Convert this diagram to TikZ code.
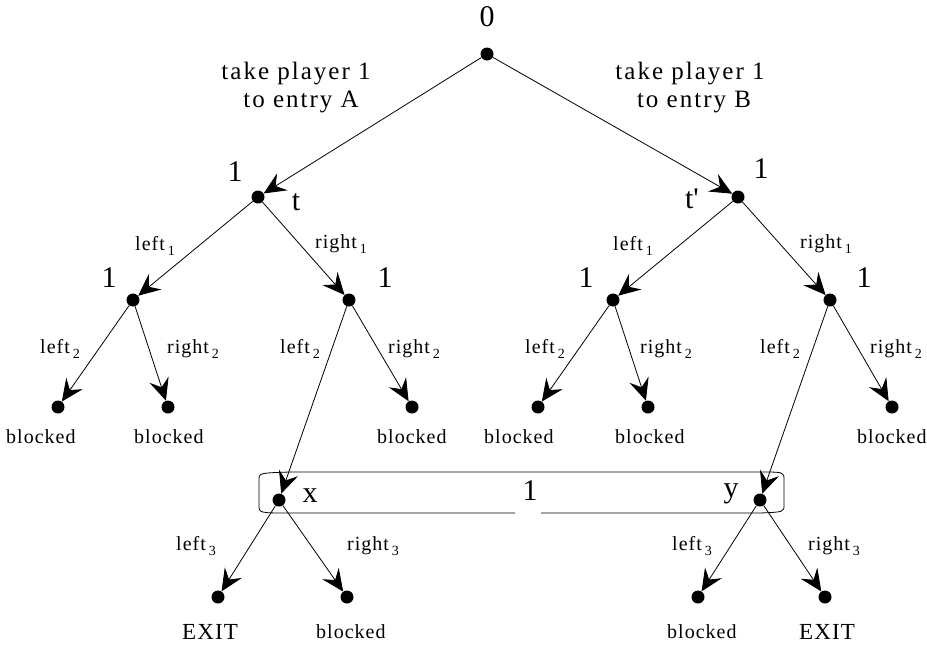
\documentclass[tikz,border=0pt]{standalone}
\usepackage{fontspec}
\setmainfont{Liberation Serif}
\newfontfamily\spfont{Liberation Serif}[LetterSpace=5]
\newfontfamily\topfont{Liberation Serif}[LetterSpace=8]
\usetikzlibrary{arrows.meta}
\newcommand\sublab[2]{#1\hspace{3pt}\raisebox{-5pt}{\fontsize{14}{14}\selectfont #2}}
\begin{document}
\begin{tikzpicture}[x=1pt,y=-1pt,
  dot/.style={circle,fill,inner sep=0pt,minimum size=13pt},
  edge/.style={line width=0.8pt,-{Stealth[length=22pt,width=20pt,inset=8pt]}},
  big/.style={font=\fontsize{30}{30}\selectfont,inner sep=0pt},
  lbl/.style={font=\spfont\fontsize{20}{20}\selectfont,inner sep=0pt,anchor=base west},
  toptext/.style={font=\topfont\fontsize{25}{25}\selectfont,inner sep=0pt,anchor=base},
  exitlbl/.style={font=\spfont\fontsize{23}{23}\selectfont,inner sep=0pt,anchor=base west}]
\useasboundingbox (0,0) rectangle (927,646);
% nodes
\node[dot] (root) at (487,54) {};
\node[dot] (t) at (258,197) {};
\node[dot] (tp) at (738,197) {};
\node[dot] (a) at (133,300) {};
\node[dot] (b) at (349,300) {};
\node[dot] (c) at (613,300) {};
\node[dot] (d) at (830,300) {};
\node[dot] (l1) at (58,407) {};
\node[dot] (l2) at (168,407) {};
\node[dot] (l3) at (412,407) {};
\node[dot] (l4) at (538,407) {};
\node[dot] (l5) at (648,407) {};
\node[dot] (l6) at (892,407) {};
\node[dot] (x) at (279,500) {};
\node[dot] (y) at (760,500) {};
\node[dot] (m1) at (218,597) {};
\node[dot] (m2) at (347,597) {};
\node[dot] (m3) at (698,597) {};
\node[dot] (m4) at (825,597) {};
% information set box
\draw[line width=0.8pt] (290,472) -- (760,472) .. controls (784,472) .. (784,480) -- (784,505)
  .. controls (784,512) .. (760,513) -- (541,513);
\draw[line width=0.8pt] (515,513) -- (290,513) .. controls (259,513) .. (259,505) -- (259,480)
  .. controls (259,473) .. (290,472);
% edges
\draw[edge] (root) -- (t);
\draw[edge] (root) -- (tp);
\draw[edge] (t) -- (a);
\draw[edge] (t) -- (b);
\draw[edge] (tp) -- (c);
\draw[edge] (tp) -- (d);
\draw[edge] (a) -- (l1);
\draw[edge] (a) -- (l2);
\draw[edge] (b) -- (x);
\draw[edge] (b) -- (l3);
\draw[edge] (c) -- (l4);
\draw[edge] (c) -- (l5);
\draw[edge] (d) -- (y);
\draw[edge] (d) -- (l6);
\draw[edge] (x) -- (m1);
\draw[edge] (x) -- (m2);
\draw[edge] (y) -- (m3);
\draw[edge] (y) -- (m4);
% big labels
\node[big] (n0) at (487,17) {0};
\node[big] (nt1) at (235,172) {1};
\node[big] (ntp1) at (761,169) {1};
\node[big] (na1) at (109,278) {1};
\node[big] (nb1) at (385,278) {1};
\node[big] (nc1) at (586,278) {1};
\node[big] (nd1) at (864,278) {1};
\node[big] (nbox1) at (530,491) {1};
\node[big] (tlab) at (296,202) {t};
\node[big] (tplab) at (692,199) {t\textquotesingle};
\node[big] (xlab) at (310,496) {x};
\node[big] (ylab) at (731,494) {y};
% top texts
\node[toptext] (tA1) at (296,79) {take player 1};
\node[toptext] (tA2) at (301,107) {to entry A};
\node[toptext] (tB1) at (690,79) {take player 1};
\node[toptext] (tB2) at (694,107) {to entry B};
% move labels
\node[lbl] (ml1) at (135,250) {\sublab{left}{1}};
\node[lbl] (mr1) at (315,248) {\sublab{right}{1}};
\node[lbl] (ml1p) at (613,250) {\sublab{left}{1}};
\node[lbl] (mr1p) at (800,248) {\sublab{right}{1}};
\node[lbl] (ml2a) at (40,353) {\sublab{left}{2}};
\node[lbl] (mr2a) at (167,353) {\sublab{right}{2}};
\node[lbl] (ml2b) at (280,353) {\sublab{left}{2}};
\node[lbl] (mr2b) at (388,353) {\sublab{right}{2}};
\node[lbl] (ml2c) at (525,353) {\sublab{left}{2}};
\node[lbl] (mr2c) at (640,353) {\sublab{right}{2}};
\node[lbl] (ml2d) at (760,353) {\sublab{left}{2}};
\node[lbl] (mr2d) at (870,353) {\sublab{right}{2}};
\node[lbl] (ml3x) at (176,550) {\sublab{left}{3}};
\node[lbl] (mr3x) at (347,550) {\sublab{right}{3}};
\node[lbl] (ml3y) at (672,550) {\sublab{left}{3}};
\node[lbl] (mr3y) at (808,550) {\sublab{right}{3}};
% outcomes
\node[lbl] (o1) at (6,443) {blocked};
\node[lbl] (o2) at (134,443) {blocked};
\node[lbl] (o3) at (377,443) {blocked};
\node[lbl] (o4) at (484,443) {blocked};
\node[lbl] (o5) at (615,443) {blocked};
\node[lbl] (o6) at (857,443) {blocked};
\node[lbl] (o7) at (316,638) {blocked};
\node[lbl] (o8) at (667,638) {blocked};
\node[exitlbl] (e1) at (182,639) {EXIT};
\node[exitlbl] (e2) at (799,639) {EXIT};
\end{tikzpicture}
\end{document}
